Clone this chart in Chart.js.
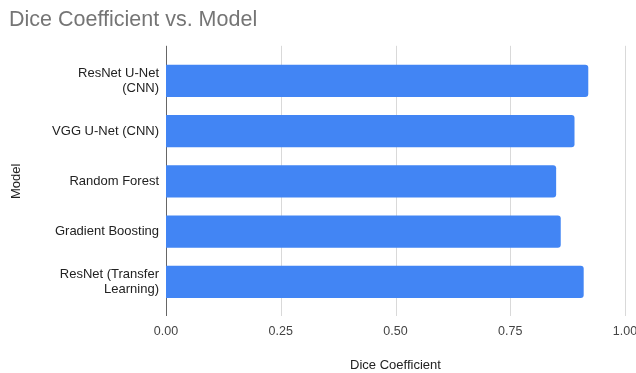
<!DOCTYPE html>
<html>
<head>
<meta charset="utf-8">
<script src="https://cdn.jsdelivr.net/npm/chart.js@4"></script>
<style>
  html, body { margin: 0; padding: 0; background: #fff; }
  #wrap { width: 636px; height: 373px; }
</style>
</head>
<body>
<div id="wrap"><canvas id="dice-bar" width="636" height="373"></canvas></div>
<script>
// data
const models = [['ResNet U-Net', '(CNN)'], 'VGG U-Net (CNN)', 'Random Forest', 'Gradient Boosting', ['ResNet (Transfer', 'Learning)']];
const diceScores = [0.92, 0.89, 0.85, 0.86, 0.91];
const xTicks = [0, 0.25, 0.5, 0.75, 1];

const FONT = "'Liberation Sans', Arial, sans-serif";

// gridlines in sheets run a bit past the bar band, so draw them by hand
const gridPlugin = {
  id: 'sheetGrid',
  beforeDatasetsDraw(chart) {
    const ctx = chart.ctx, area = chart.chartArea, xs = chart.scales.x;
    ctx.save();
    xTicks.forEach(v => {
      const x = Math.round(xs.getPixelForValue(v)) + 0.5;
      ctx.strokeStyle = v === 0 ? '#666666' : '#d9d9d9';
      ctx.lineWidth = 1;
      ctx.beginPath();
      ctx.moveTo(x, area.top - 10);
      ctx.lineTo(x, area.bottom + 9);
      ctx.stroke();
    });
    ctx.restore();
  }
};

const ctx = document.getElementById('dice-bar').getContext('2d');
new Chart(ctx, {
  type: 'bar',
  data: {
    labels: models,
    datasets: [{
      data: diceScores,
      backgroundColor: '#4285f4',
      borderRadius: 3,
      barPercentage: 0.64,
      categoryPercentage: 1
    }]
  },
  options: {
    indexAxis: 'y',
    responsive: false,
    animation: false,
    layout: { padding: { left: 9, right: 0, top: 0, bottom: 0 } },
    plugins: {
      legend: { display: false },
      tooltip: { enabled: false },
      title: {
        display: true,
        text: 'Dice Coefficient vs. Model',
        align: 'start',
        color: '#757575',
        font: { family: FONT, size: 21.5, weight: 'normal' },
        padding: { top: 7, bottom: 23 }
      }
    },
    scales: {
      x: {
        min: 0,
        max: 1,
        afterBuildTicks(scale) { scale.ticks = xTicks.map(v => ({ value: v })); },
        afterFit(scale) {
          scale.height = 66;
          scale.paddingRight = 11;
        },
        grid: { display: false, drawTicks: false },
        border: { display: false },
        ticks: {
          padding: 17,
          color: '#444444',
          font: { family: FONT, size: 12.5 },
          callback: v => Number(v).toFixed(2)
        },
        title: {
          display: true,
          text: 'Dice Coefficient',
          color: '#222222',
          font: { family: FONT, size: 13 },
          padding: { top: 18, bottom: 0 }
        }
      },
      y: {
        afterFit(scale) { scale.width = 157; },
        grid: { display: false, drawTicks: false },
        border: { display: false },
        ticks: {
          padding: 7,
          color: '#222222',
          font: { family: FONT, size: 13 }
        },
        title: {
          display: true,
          text: 'Model',
          color: '#222222',
          font: { family: FONT, size: 13 },
          padding: { top: 0, bottom: 0 }
        }
      }
    }
  },
  plugins: [gridPlugin]
});
</script>
</body>
</html>
